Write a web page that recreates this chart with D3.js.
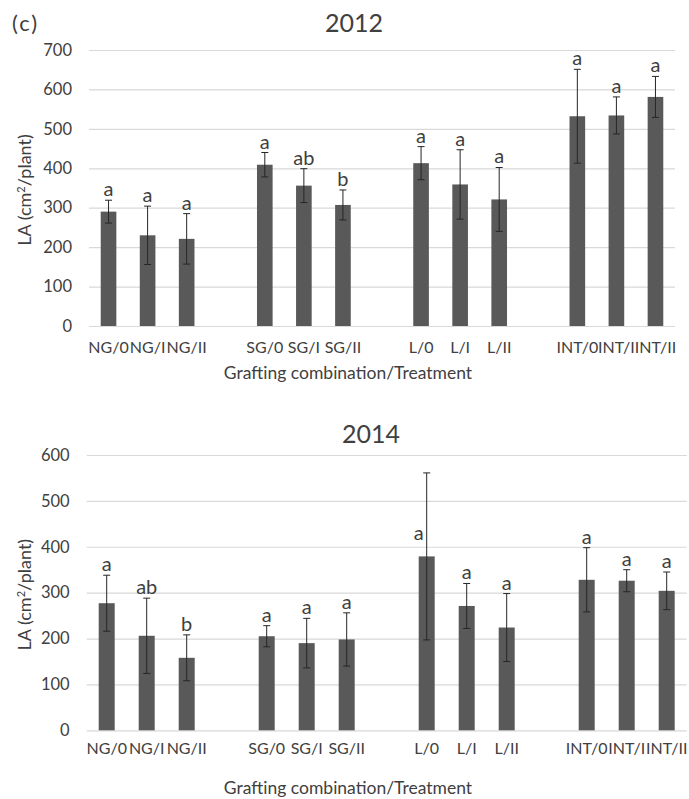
<!DOCTYPE html>
<html>
<head>
<meta charset="utf-8">
<script src="https://cdn.jsdelivr.net/npm/d3@7"></script>
<style>
  body { margin: 0; background: #fff; }
  svg text { font-family: Lato, "Open Sans", sans-serif; fill: #404040; }
</style>
</head>
<body>
<div id="chart"></div>
<script>
// categorias (grafting combination / treatment)
var labels = ["NG/0", "NG/I", "NG/II", "SG/0", "SG/I", "SG/II", "L/0", "L/I", "L/II", "INT/0", "INT/I", "INT/II"];

// 2012
var la2012 = [290, 230, 221, 409, 356, 307, 413, 359, 321, 532, 534, 581];
var err2012 = [29, 74, 64, 31, 43, 38, 42, 88, 81, 119, 47, 52];
var letras2012 = ["a", "a", "a", "a", "ab", "b", "a", "a", "a", "a", "a", "a"];

// 2014
var la2014 = [277, 206, 158, 205, 190, 198, 379, 271, 224, 328, 326, 304];
var err2014 = [61, 82, 50, 23, 54, 58, 182, 49, 74, 70, 24, 41];
var letras2014 = ["a", "ab", "b", "a", "a", "a", "a", "a", "a", "a", "a", "a"];

var yticks2012 = [0, 100, 200, 300, 400, 500, 600, 700];
var yticks2014 = [0, 100, 200, 300, 400, 500, 600];

var width = 689, height = 799;
var fonte = "Lato, 'Open Sans', sans-serif";

var svg = d3.select("#chart")
            .append("svg")
            .attr("width", width)
            .attr("height", height);

svg.append("text")
   .attr("x", 12)
   .attr("y", 31)
   .style("font-size", "22px")
   .style("letter-spacing", "2px")
   .text("(c)");

// slots com espacos vazios entre os grupos
var slots = [];
labels.forEach(function(l, i){
    if (i > 0 && i % 3 == 0) slots.push("_gap" + i);
    slots.push(l);
});

function desenha_painel(p){

    var x = d3.scaleBand()
              .domain(slots)
              .range([p.left, p.right])
              .paddingInner(0.6)
              .paddingOuter(0.3);

    var y = d3.scaleLinear()
              .domain([0, d3.max(p.ticks)])
              .range([p.bottom, p.top]);

    var g = svg.append("g");

    // linhas de grade
    g.append("g")
     .attr("class", "grid")
     .attr("transform", "translate(" + p.left + ",0)")
     .call(d3.axisLeft(y).tickValues(p.ticks).tickSize(-(p.right - p.left)).tickFormat(""))
     .call(function(s){ s.select(".domain").remove(); })
     .selectAll("line")
     .style("stroke", "#d9d9d9")
     .style("stroke-width", 1.2);

    // eixo y
    g.append("g")
     .attr("transform", "translate(" + (p.left - 14) + ",0)")
     .call(d3.axisLeft(y).tickValues(p.ticks).tickSize(0).tickPadding(3))
     .call(function(s){ s.select(".domain").remove(); })
     .selectAll("text")
     .style("font-size", "16.5px")
     .style("font-family", fonte)
     .style("fill", "#404040");

    // eixo x
    g.append("g")
     .attr("transform", "translate(0," + p.bottom + ")")
     .call(d3.axisBottom(x).tickSize(0).tickPadding(p.xpad)
             .tickFormat(function(d){ return d.indexOf("_gap") == 0 ? "" : d; }))
     .call(function(s){ s.select(".domain").remove(); })
     .selectAll("text")
     .style("font-size", "16px")
     .style("font-family", fonte)
     .style("fill", "#404040");

    var dados = labels.map(function(l, i){
        return {nome: l, v: p.valores[i], e: p.erros[i], letra: p.letras[i]};
    });

    // barras
    g.selectAll("rect.barra")
     .data(dados)
     .enter()
     .append("rect")
     .attr("class", "barra")
     .attr("x", function(d){ return x(d.nome); })
     .attr("y", function(d){ return y(d.v); })
     .attr("width", x.bandwidth())
     .attr("height", function(d){ return y(0) - y(d.v); })
     .style("fill", "#595959");

    // barras de erro
    var cap = 3.5;
    var eb = g.selectAll("g.erro")
              .data(dados)
              .enter()
              .append("g")
              .attr("class", "erro")
              .attr("transform", function(d){ return "translate(" + (x(d.nome) + x.bandwidth() / 2) + ",0)"; })
              .style("stroke", "#262626")
              .style("stroke-width", 1);

    eb.append("line")
      .attr("x1", 0).attr("x2", 0)
      .attr("y1", function(d){ return y(d.v + d.e); })
      .attr("y2", function(d){ return y(d.v - d.e); });
    eb.append("line")
      .attr("x1", -cap).attr("x2", cap)
      .attr("y1", function(d){ return y(d.v + d.e); })
      .attr("y2", function(d){ return y(d.v + d.e); });
    eb.append("line")
      .attr("x1", -cap).attr("x2", cap)
      .attr("y1", function(d){ return y(d.v - d.e); })
      .attr("y2", function(d){ return y(d.v - d.e); });

    // letras (rotulos de significancia)
    g.selectAll("text.letra")
     .data(dados)
     .enter()
     .append("text")
     .attr("class", "letra")
     .attr("text-anchor", "middle")
     .attr("x", function(d){
         var cx = x(d.nome) + x.bandwidth() / 2;
         return d.e > 150 ? cx - 8 : cx;
     })
     .attr("y", function(d){
         return d.e > 150 ? y(d.v) - 16 : y(d.v + d.e) - 4;
     })
     .style("font-size", "20px")
     .text(function(d){ return d.letra; });

    // titulo
    svg.append("text")
       .attr("x", p.tx)
       .attr("y", p.ty)
       .attr("text-anchor", "middle")
       .style("font-size", "25px")
       .text(p.titulo);

    // titulo eixo x
    svg.append("text")
       .attr("x", 348)
       .attr("y", p.xty)
       .attr("text-anchor", "middle")
       .style("font-size", "17.5px")
       .text("Grafting combination/Treatment");

    // titulo eixo y
    svg.append("text")
       .attr("transform", "translate(" + p.ytx + "," + ((p.top + p.bottom) / 2 + 2) + ") rotate(-90)")
       .attr("text-anchor", "middle")
       .style("font-size", "18px")
       .html("LA (cm<tspan baseline-shift='super' font-size='11px'>2</tspan>/plant)");
}

desenha_painel({
    titulo: "2012", valores: la2012, erros: err2012, letras: letras2012, ticks: yticks2012,
    left: 89, right: 675, top: 50, bottom: 326,
    tx: 354, ty: 32, xty: 379, ytx: 31, xpad: 16
});

desenha_painel({
    titulo: "2014", valores: la2014, erros: err2014, letras: letras2014, ticks: yticks2014,
    left: 86.7, right: 686.7, top: 455, bottom: 730.3,
    tx: 371, ty: 443, xty: 794, ytx: 31, xpad: 12
});
</script>
</body>
</html>
